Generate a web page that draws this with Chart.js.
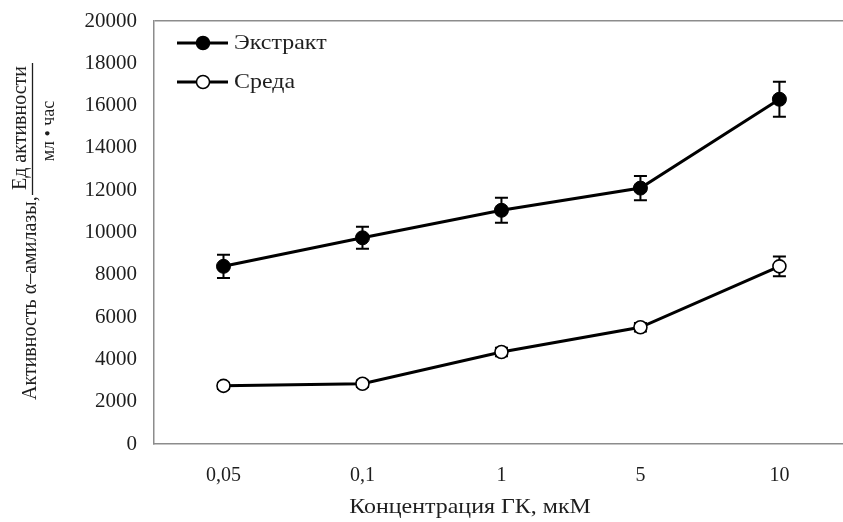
<!DOCTYPE html>
<html>
<head>
<meta charset="utf-8">
<script src="https://cdn.jsdelivr.net/npm/chart.js@4/dist/chart.umd.min.js"></script>
<style>
  html, body { margin: 0; padding: 0; background: #fff; width: 843px; height: 522px; overflow: hidden; }
  #wrap { width: 857px; height: 522px; }
</style>
</head>
<body>
<div id="wrap"><canvas id="c" width="857" height="522"></canvas></div>
<script>
// Concentrations of GA (µM) along the x axis
const categories = ['0,05', '0,1', '1', '5', '10'];

// α-amylase activity in the extract
const extractValues = [8400, 9750, 11050, 12100, 16300];
const extractErrors = [550, 520, 590, 570, 830];

// α-amylase activity in the medium
const mediumValues = [2750, 2850, 4350, 5520, 8400];
const mediumErrors = [150, 150, 200, 200, 470];

// y axis range and step
const yMin = 0;
const yMax = 20000;
const yStep = 2000;

const FONT = '"Liberation Serif", "Times New Roman", serif';
const INK = '#1e1e1e';
const FRAME = '#8c8c8c';

// Vertical error bars with caps, drawn beneath the markers
const errorBars = {
  id: 'errorBars',
  beforeDatasetsDraw(chart) {
    const ctx = chart.ctx;
    const y = chart.scales.y;
    ctx.save();
    ctx.strokeStyle = '#000';
    ctx.lineWidth = 2;
    chart.data.datasets.forEach((ds, di) => {
      const meta = chart.getDatasetMeta(di);
      meta.data.forEach((pt, i) => {
        const v = ds.data[i];
        const e = ds.errors[i];
        const top = y.getPixelForValue(v + e);
        const bot = y.getPixelForValue(v - e);
        const x = pt.x;
        ctx.beginPath();
        ctx.moveTo(x, top); ctx.lineTo(x, bot);
        ctx.moveTo(x - 6.5, top); ctx.lineTo(x + 6.5, top);
        ctx.moveTo(x - 6.5, bot); ctx.lineTo(x + 6.5, bot);
        ctx.stroke();
      });
    });
    ctx.restore();
  }
};

// draws text slightly widened horizontally, like the serif lettering of the figure
function wideText(ctx, text, x, y, size, align) {
  ctx.save();
  ctx.translate(x, y);
  ctx.scale(1.14, 1);
  ctx.font = size + 'px ' + FONT;
  ctx.textAlign = align;
  ctx.textBaseline = 'middle';
  ctx.fillText(text, 0, 0);
  ctx.restore();
}

// draws text rotated to read bottom-to-top
function upText(ctx, text, x, y, size, align) {
  ctx.save();
  ctx.translate(x, y);
  ctx.rotate(-Math.PI / 2);
  ctx.font = size + 'px ' + FONT;
  ctx.textAlign = align;
  ctx.textBaseline = 'middle';
  ctx.fillText(text, 0, 0);
  ctx.restore();
}

// Legend entries and axis titles (with the units fraction)
const decorations = {
  id: 'decorations',
  afterDraw(chart) {
    const ctx = chart.ctx;
    ctx.save();

    // legend
    const rows = [
      { label: 'Экстракт', fill: '#000', y: 43 },
      { label: 'Среда', fill: '#fff', y: 82 }
    ];
    rows.forEach(r => {
      ctx.strokeStyle = '#000';
      ctx.lineWidth = 3;
      ctx.beginPath();
      ctx.moveTo(177, r.y); ctx.lineTo(228, r.y);
      ctx.stroke();
      ctx.beginPath();
      ctx.arc(203, r.y, 6.5, 0, Math.PI * 2);
      ctx.fillStyle = r.fill;
      ctx.fill();
      ctx.lineWidth = 1.5;
      ctx.stroke();
      ctx.fillStyle = INK;
      wideText(ctx, r.label, 234, r.y, 21, 'left');
    });

    ctx.fillStyle = INK;
    ctx.strokeStyle = INK;

    // x axis title
    wideText(ctx, 'Концентрация ГК, мкМ', 470, 507, 21, 'center');

    // y axis title
    upText(ctx, 'Активность α–амилазы,', 31, 400, 20, 'left');

    // units fraction: bar, numerator, denominator
    ctx.lineWidth = 1.3;
    ctx.beginPath();
    ctx.moveTo(32.5, 63); ctx.lineTo(32.5, 195);
    ctx.stroke();
    upText(ctx, 'Ед активности', 21, 128, 20, 'center');
    upText(ctx, 'мл • час', 49, 131, 18, 'center');

    ctx.restore();
  }
};

new Chart(document.getElementById('c'), {
  type: 'line',
  data: {
    labels: categories,
    datasets: [
      {
        label: 'Экстракт',
        data: extractValues,
        errors: extractErrors,
        borderColor: '#000',
        borderWidth: 3,
        pointRadius: 7,
        pointBackgroundColor: '#000',
        pointBorderColor: '#000',
        pointBorderWidth: 1,
        tension: 0
      },
      {
        label: 'Среда',
        data: mediumValues,
        errors: mediumErrors,
        borderColor: '#000',
        borderWidth: 3,
        pointRadius: 6.5,
        pointBackgroundColor: '#fff',
        pointBorderColor: '#000',
        pointBorderWidth: 1.6,
        tension: 0
      }
    ]
  },
  options: {
    responsive: false,
    animation: false,
    events: [],
    layout: { padding: { top: 21, left: 0, right: 0, bottom: 0 } },
    plugins: {
      legend: { display: false },
      tooltip: { enabled: false },
      title: { display: false }
    },
    scales: {
      x: {
        offset: true,
        grid: { display: true, color: 'transparent', drawTicks: false },
        border: { display: true, color: FRAME, width: 1.5 },
        ticks: { color: INK, font: { family: FONT, size: 20 }, padding: 20 },
        afterFit(scale) { scale.height = 78; }
      },
      y: {
        min: yMin,
        max: yMax,
        grid: {
          display: true,
          drawTicks: false,
          lineWidth: 1.5,
          color: (c) => (c.tick && c.tick.value === yMax ? FRAME : 'transparent')
        },
        border: { display: true, color: FRAME, width: 1.5 },
        ticks: {
          stepSize: yStep,
          color: INK,
          font: { family: FONT, size: 21 },
          padding: 17,
          callback: (v) => String(v)
        },
        afterFit(scale) {
          scale.width = 154;
          scale.paddingTop = 0;
          scale.paddingBottom = 0;
        }
      }
    }
  },
  plugins: [errorBars, decorations]
});
</script>
</body>
</html>
